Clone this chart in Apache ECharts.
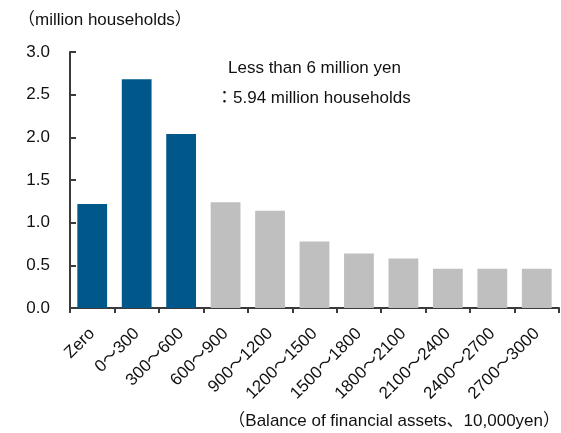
<!DOCTYPE html>
<html>
<head>
<meta charset="utf-8">
<script src="https://cdn.jsdelivr.net/npm/echarts@6/dist/echarts.min.js"></script>
<style>
  html, body { margin: 0; padding: 0; background: #fff; }
  #chart { width: 561px; height: 433px; }
</style>
</head>
<body>
<div id="chart"></div>
<script>
// Households by balance of financial assets (10,000 yen brackets)
const categories = ['Zero', '0～300', '300～600', '600～900', '900～1200', '1200～1500',
  '1500～1800', '1800～2100', '2100～2400', '2400～2700', '2700～3000'];
const households = [1.22, 2.68, 2.04, 1.24, 1.14, 0.78, 0.64, 0.58, 0.46, 0.46, 0.46];
// Brackets below 6 million yen are highlighted
const highlightCount = 3;
const yTicks = { min: 0, max: 3, interval: 0.5 };

const FONT = '"Liberation Sans", Arial, "Noto Sans CJK JP", sans-serif';
const BLUE = '#00578a';
const GRAY = '#bfbfbf';
const AXIS = '#3a3a3a';

const chart = echarts.init(document.getElementById('chart'));
chart.setOption({
  animation: false,
  grid: { left: 70, right: 2, top: 52, bottom: 125 },
  xAxis: {
    type: 'category',
    data: categories,
    axisLine: { lineStyle: { color: AXIS, width: 2 } },
    axisTick: { show: true, length: 5, lineStyle: { color: AXIS, width: 2 } },
    axisLabel: {
      rotate: 45, margin: 23, interval: 0,
      color: '#111', fontSize: 17, fontFamily: FONT
    }
  },
  yAxis: {
    type: 'value',
    min: yTicks.min, max: yTicks.max, interval: yTicks.interval,
    axisLine: { show: true, lineStyle: { color: AXIS, width: 2 } },
    axisTick: { show: true, inside: true, length: 6, lineStyle: { color: AXIS, width: 2 } },
    splitLine: { show: false },
    axisLabel: {
      margin: 20, color: '#111', fontSize: 17, fontFamily: FONT,
      formatter: v => v.toFixed(1)
    }
  },
  series: [{
    type: 'bar',
    barWidth: '67%',
    data: households.map((v, i) => ({
      value: v,
      itemStyle: { color: i < highlightCount ? BLUE : GRAY }
    }))
  }],
  graphic: [
    {
      type: 'text', left: 18, top: 12,
      style: { text: '（million households）', font: '17px ' + FONT, fill: '#111' }
    },
    {
      type: 'text', left: 228, top: 60,
      style: { text: 'Less than 6 million yen', font: '17px ' + FONT, fill: '#111' }
    },
    {
      type: 'text', left: 216, top: 90,
      style: { text: '：5.94 million households', font: '17px ' + FONT, fill: '#111' }
    },
    {
      type: 'text', right: 1, top: 413,
      style: { text: '（Balance of financial assets、10,000yen）', font: '17px ' + FONT, fill: '#111' }
    }
  ]
});
</script>
</body>
</html>
